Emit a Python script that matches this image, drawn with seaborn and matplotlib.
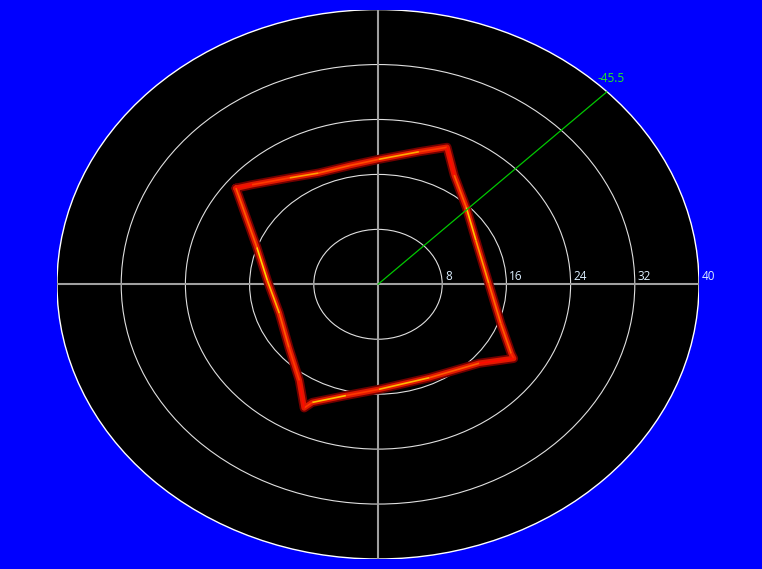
import numpy as np
import pandas as pd
import matplotlib.pyplot as plt
import seaborn as sns
from matplotlib.patches import Circle
from matplotlib.collections import LineCollection

sns.set_theme(style="dark")
plt.rcParams['font.family'] = ['Open Sans', 'DejaVu Sans']

# радиальная сетка
ring_radii = [8, 16, 24, 32, 40]
ring_labels = ["8", "16", "24", "32", "40"]
r_max = 40

# луч направления
beam_deg = 44.5
beam_label = "-45.5"

# контур скана (по часовой стрелке от левого верхнего угла), x/y в единицах шкалы
scan_x = [-17.7, -15.7, -11.0, -7.4, -3.5, 0.1, 5.1, 8.6,
          9.5, 11.0, 12.2, 13.8, 15.3, 16.6, 16.9,
          12.6, 6.4, 0.1, -4.0, -8.2, -9.2,
          -9.8, -11.1, -12.3, -13.8, -15.1, -17.7]
scan_y = [14.0, 14.5, 15.5, 16.2, 17.3, 18.2, 19.3, 19.95,
          15.9, 11.2, 6.4, 0.15, -5.7, -10.1, -10.8,
          -11.5, -13.6, -15.3, -16.2, -17.2, -18.0,
          -14.0, -9.2, -4.2, 0.6, 5.4, 14.0]
# яркость вдоль контура (0..1, палитра hot)
scan_level = [0.38, 0.45, 0.6, 0.5, 0.48, 0.62, 0.45, 0.38,
              0.5, 0.66, 0.6, 0.52, 0.5, 0.42, 0.38,
              0.5, 0.64, 0.45, 0.66, 0.45, 0.38,
              0.45, 0.5, 0.64, 0.68, 0.5, 0.38]

df = pd.DataFrame({'x': scan_x, 'y': scan_y, 'level': scan_level})

fig = plt.figure(figsize=(7.62, 5.69), dpi=100)
fig.patch.set_facecolor('#0000ff')
ax = fig.add_axes([57 / 762, 10 / 569, 642 / 762, 549.4 / 569])
ax.set_facecolor('#0000ff')
ax.set_xlim(-r_max, r_max)
ax.set_ylim(-r_max, r_max)
ax.set_axis_off()

# фон и кольца
ax.add_patch(Circle((0, 0), r_max, facecolor='black', edgecolor='white', lw=1.0, zorder=0))
for r in ring_radii[:-1]:
    ax.add_patch(Circle((0, 0), r, facecolor='none', edgecolor='#e0e0e0', lw=0.8, zorder=1))
ax.plot([-r_max, r_max], [0, 0], color='#a0a0a0', lw=1.5, zorder=1)
ax.plot([0, 0], [-r_max, r_max], color='#a0a0a0', lw=1.5, zorder=1)

for r, lab in zip(ring_radii, ring_labels):
    ax.annotate(lab, (r, 0), xytext=(2, 3), textcoords='offset points',
                ha='left', va='baseline', fontsize=8.5, color='#dcefff', zorder=5)

# скан
sns.lineplot(data=df, x='x', y='y', sort=False, estimator=None, color='#700000',
             lw=6.5, ax=ax, zorder=2)
sns.lineplot(data=df, x='x', y='y', sort=False, estimator=None, color='#e01800',
             lw=4.0, ax=ax, zorder=3)
pts = np.column_stack([df['x'], df['y']])
segs = np.stack([pts[:-1], pts[1:]], axis=1)
lc = LineCollection(segs, cmap='hot', norm=plt.Normalize(0, 1), lw=1.2, zorder=4)
lc.set_array(np.array(scan_level[:-1]))
ax.add_collection(lc)

# луч
th = np.deg2rad(beam_deg)
bx, by = r_max * np.cos(th), r_max * np.sin(th)
ax.plot([0, bx], [0, by], color='#00c800', lw=0.9, zorder=4)
ax.annotate(beam_label, (bx, by), xytext=(-7, 7), textcoords='offset points',
            ha='left', va='baseline', fontsize=8.5, color='#22ee22', zorder=5)

if ax.get_legend():
    ax.get_legend().remove()

fig.savefig("out.png", dpi=100, facecolor=fig.get_facecolor())
